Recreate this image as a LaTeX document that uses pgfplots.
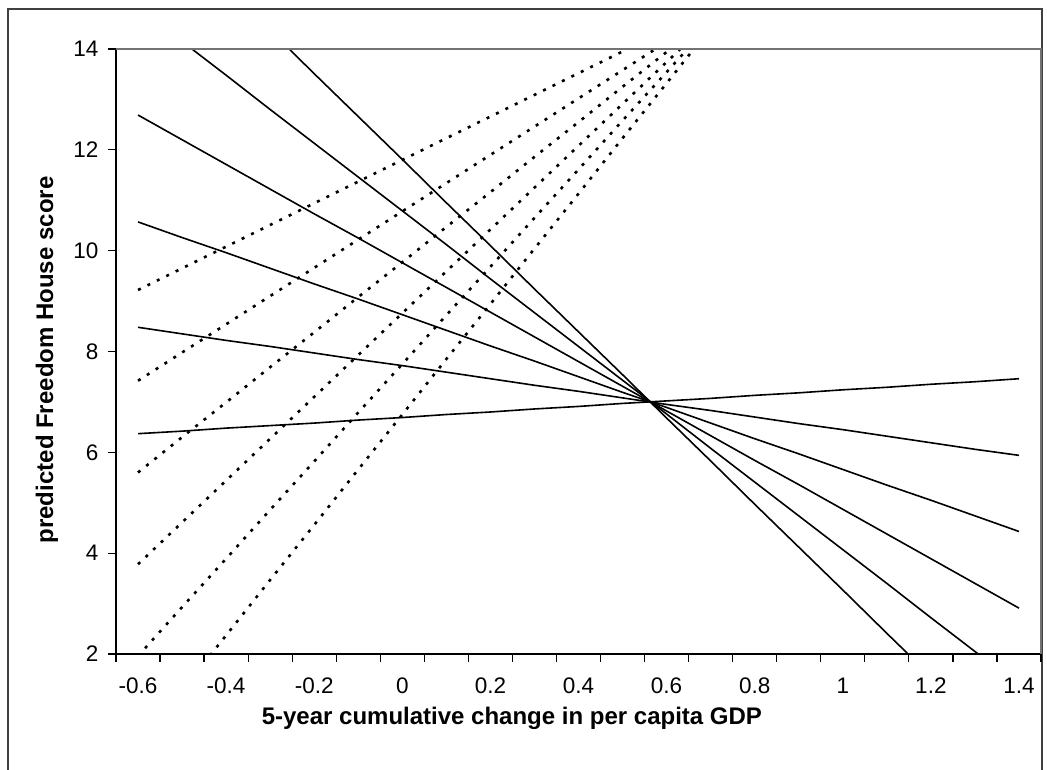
\documentclass[border=0pt]{standalone}
\usepackage{pgfplots}
\usepackage{pgfplotstable}
\pgfplotsset{compat=1.18}
\usepackage{fontspec}
\setmainfont{Liberation Sans}

\pgfplotstableread{
x s1 s2 s3 s4 s5 s6 d1 d2 d3 d4 d5 d6
-0.6 6.37 8.48 10.57 12.69 14.82 16.93 9.22 7.42 5.60 3.78 1.96 0.18
-0.5 6.42 8.35 10.26 12.20 14.15 16.08 9.65 7.98 6.30 4.61 2.93 1.28
-0.4 6.48 8.22 9.96 11.71 13.48 15.22 10.08 8.54 6.99 5.44 3.89 2.37
-0.3 6.53 8.10 9.65 11.22 12.80 14.37 10.51 9.10 7.69 6.27 4.86 3.47
-0.2 6.58 7.97 9.34 10.73 12.13 13.51 10.94 9.66 8.38 7.10 5.82 4.56
-0.1 6.64 7.84 9.04 10.25 11.46 12.66 11.37 10.22 9.08 7.93 6.79 5.66
0.0 6.69 7.72 8.73 9.76 10.79 11.81 11.80 10.78 9.77 8.76 7.75 6.75
0.1 6.75 7.59 8.42 9.27 10.12 10.95 12.23 11.34 10.47 9.59 8.72 7.85
0.2 6.80 7.46 8.11 8.78 9.44 10.10 12.66 11.90 11.16 10.42 9.68 8.94
0.3 6.86 7.33 7.81 8.29 8.77 9.24 13.09 12.46 11.86 11.25 10.65 10.04
0.4 6.91 7.21 7.50 7.80 8.10 8.39 13.52 13.02 12.55 12.08 11.61 11.13
0.5 6.97 7.08 7.19 7.31 7.43 7.54 13.95 13.58 13.25 12.91 12.58 12.23
0.6 7.02 6.95 6.89 6.82 6.76 6.68 14.38 14.14 13.94 13.74 13.54 13.32
0.7 7.07 6.83 6.58 6.33 6.08 5.83 14.81 14.70 14.64 14.57 14.51 14.42
0.8 7.13 6.70 6.27 5.84 5.41 4.97 15.24 15.26 15.33 15.40 15.47 15.51
0.9 7.18 6.57 5.97 5.36 4.74 4.12 15.67 15.82 16.03 16.23 16.44 16.61
1.0 7.24 6.45 5.66 4.87 4.07 3.27 16.10 16.38 16.72 17.06 17.40 17.70
1.1 7.29 6.32 5.35 4.38 3.40 2.41 16.53 16.94 17.42 17.89 18.37 18.80
1.2 7.35 6.19 5.05 3.89 2.72 1.56 16.96 17.50 18.11 18.72 19.33 19.89
1.3 7.40 6.06 4.74 3.40 2.05 0.70 17.39 18.06 18.81 19.55 20.30 20.99
1.4 7.46 5.94 4.43 2.91 1.38 -0.15 17.82 18.62 19.50 20.38 21.26 22.08
}\datatable

\begin{document}
\begin{tikzpicture}
\useasboundingbox (0pt,0pt) rectangle (1047pt,770pt);
\fill[white] (0pt,0pt) rectangle (1047pt,770pt);
\draw[black!75, line width=1.5pt] (8pt,-2pt) -- (8pt,761pt) -- (1042pt,761pt) -- (1042pt,-2pt);
\begin{axis}[
  at={(116pt,116pt)}, anchor=south west,
  width=925pt, height=605pt, scale only axis,
  xmin=-0.65, xmax=1.45, ymin=2, ymax=14,
  axis x line*=bottom, axis y line*=left,
  axis line style={black, line width=1.5pt},
  xtick={-0.6,-0.4,-0.2,0,0.2,0.4,0.6,0.8,1,1.2,1.4},
  xticklabels={-0.6,-0.4,-0.2,0,0.2,0.4,0.6,0.8,1,1.2,1.4},
  minor xtick={-0.65,-0.55,-0.45,-0.35,-0.25,-0.15,-0.05,0.05,0.15,0.25,0.35,0.45,0.55,0.65,0.75,0.85,0.95,1.05,1.15,1.25,1.35,1.45},
  ytick={2,4,6,8,10,12,14},
  yticklabels={2,4,6,8,10,12,14},
  tick align=outside,
  major tick length=8pt, minor tick length=8pt,
  every major x tick/.append style={draw=none},
  every minor x tick/.append style={black, line width=1.2pt},
  every major y tick/.append style={black, line width=1.2pt},
  xticklabel style={font=\fontsize{22.5}{26}\selectfont, yshift=-12pt},
  yticklabel style={font=\fontsize{22.5}{26}\selectfont, xshift=-6pt},
  xlabel={5-year cumulative change in per capita GDP},
  xlabel style={at={(axis description cs:0.428,-0.106)}, anchor=center, font=\bfseries\fontsize{24}{28}\selectfont},
  ylabel={predicted Freedom House score},
  ylabel style={at={(axis description cs:-0.0746,0.486)}, anchor=center, font=\bfseries\fontsize{24}{28}\selectfont},
  clip=true,
]
\addplot[black, line width=1.6pt] table[x=x, y=s1] {\datatable};
\addplot[black, line width=1.6pt] table[x=x, y=s2] {\datatable};
\addplot[black, line width=1.6pt] table[x=x, y=s3] {\datatable};
\addplot[black, line width=1.6pt] table[x=x, y=s4] {\datatable};
\addplot[black, line width=1.6pt] table[x=x, y=s5] {\datatable};
\addplot[black, line width=1.6pt] table[x=x, y=s6] {\datatable};
\addplot[black, line width=2.6pt, dash pattern=on 3pt off 7.5pt] table[x=x, y=d1] {\datatable};
\addplot[black, line width=2.6pt, dash pattern=on 3pt off 7.5pt] table[x=x, y=d2] {\datatable};
\addplot[black, line width=2.6pt, dash pattern=on 3pt off 7.5pt] table[x=x, y=d3] {\datatable};
\addplot[black, line width=2.6pt, dash pattern=on 3pt off 7.5pt] table[x=x, y=d4] {\datatable};
\addplot[black, line width=2.6pt, dash pattern=on 3pt off 7.5pt] table[x=x, y=d5] {\datatable};
\addplot[black, line width=2.6pt, dash pattern=on 3pt off 7.5pt] table[x=x, y=d6] {\datatable};
\end{axis}
\draw[black!55, line width=1.5pt] (116pt,721pt) -- (1041pt,721pt) -- (1041pt,116pt);
\end{tikzpicture}
\end{document}
